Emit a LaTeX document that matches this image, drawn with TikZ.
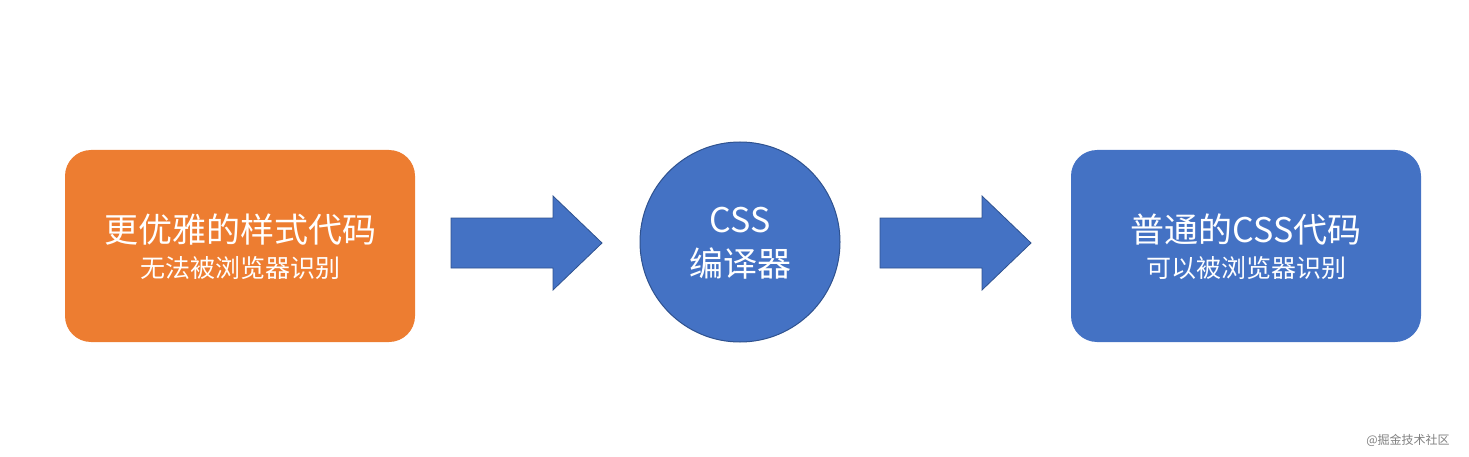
\documentclass[tikz,border=0pt]{standalone}
\usepackage{fontspec}
\setmainfont{Noto Sans CJK SC}
\definecolor{org}{HTML}{ED7D31}
\definecolor{blu}{HTML}{4472C4}
\definecolor{bord}{HTML}{2F528F}
\begin{document}
\begin{tikzpicture}[x=1pt,y=-1pt,
  box/.style={rounded corners=26pt,minimum width=350pt,minimum height=192pt,text=white,align=center,inner sep=0pt},
  big/.style={font=\fontsize{34}{40}\selectfont,text=white},
  small/.style={font=\fontsize{25}{30}\selectfont,text=white},
  arr/.style={fill=blu,draw=bord,line width=0.8pt}]
\useasboundingbox (0,0) rectangle (1469,457);
\node[box,fill=org] (a) at (240,246) {};
\node[big] (at) at (240,230) {更优雅的样式代码};
\node[small] (as) at (240,268) {无法被浏览器识别};
\node[circle,fill=blu,draw=bord,line width=1pt,minimum size=200pt] (b) at (740,242) {};
\node[big] (bt1) at (740,220) {CSS};
\node[big] (bt2) at (740,264) {编译器};
\node[box,fill=blu] (c) at (1246,246) {};
\node[big] (ct) at (1246,230) {普通的CSS代码};
\node[small] (cs) at (1246,268) {可以被浏览器识别};
\draw[arr] (451,218) -- (553,218) -- (553,196) -- (602,243) -- (553,290) -- (553,268) -- (451,268) -- cycle;
\draw[arr] (880,218) -- (982,218) -- (982,196) -- (1031,243) -- (982,290) -- (982,268) -- (880,268) -- cycle;
\node[font=\fontsize{12}{14}\selectfont,text=gray] (w) at (1408,440) {@掘金技术社区};
\end{tikzpicture}
\end{document}
